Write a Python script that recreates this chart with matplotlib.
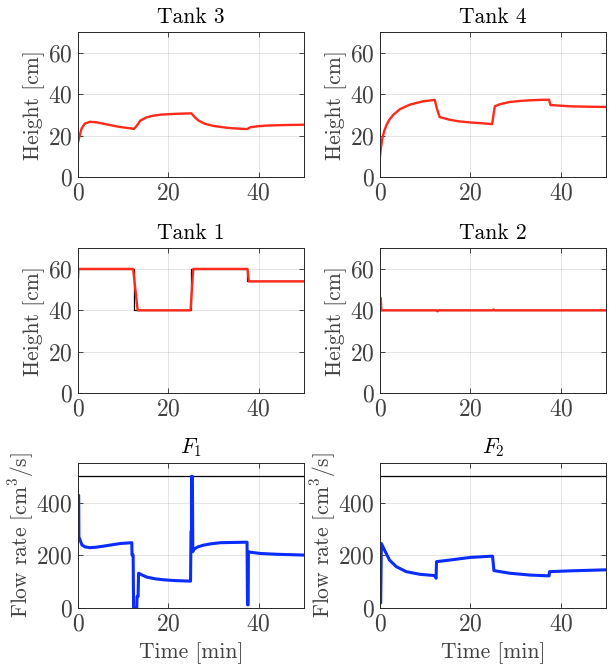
import matplotlib
matplotlib.use('Agg')
import matplotlib.pyplot as plt

plt.rcParams['font.family'] = ['cmr10', 'DejaVu Serif']
plt.rcParams['mathtext.fontset'] = 'cm'
plt.rcParams['axes.formatter.use_mathtext'] = True
plt.rcParams['font.size'] = 15

RED = '#ff2a1a'
BLUE = '#0a2cff'
AXC = '#262626'

# Tank 3 (top left)
t3 = [0.0, 0.3, 0.8, 1.5, 2.6, 4.0, 6.0, 9.0, 12.4, 13.0, 13.8, 15.0, 16.5, 18.5, 21.0, 23.5, 25.1,
      25.8, 26.6, 28.0, 30.0, 33.0, 35.5, 37.4, 38.2, 40.0, 42.0, 45.0, 50.0]
h3 = [16.7, 19.5, 23.5, 25.8, 26.7, 26.5, 25.6, 24.3, 23.3, 24.8, 27.3, 28.7, 29.6, 30.2, 30.5, 30.7, 30.8,
      29.0, 27.4, 25.8, 24.7, 23.8, 23.4, 23.2, 24.1, 24.6, 24.9, 25.1, 25.3]

# Tank 4 (top right)
t4 = [0.0, 0.2, 0.5, 0.9, 1.4, 2.0, 2.9, 4.4, 6.6, 9.5, 12.1, 12.6, 13.2, 15.4, 17.5, 19.9, 22.5, 24.8,
      25.4, 26.5, 28.7, 31.0, 33.2, 35.5, 37.4, 37.7, 40.0, 42.0, 46.0, 50.0]
h4 = [10.2, 14.0, 18.5, 22.0, 25.0, 27.5, 30.0, 32.8, 35.0, 36.6, 37.3, 33.0, 29.0, 27.7, 26.9, 26.4, 26.0, 25.6,
      34.2, 35.2, 36.3, 36.8, 37.1, 37.3, 37.4, 34.8, 34.5, 34.2, 34.0, 33.9]

# Tank 1 (middle left)
t1 = [0.0, 0.1, 12.2, 13.2, 24.9, 25.5, 37.5, 37.8, 50.0]
h1 = [55.7, 60.0, 60.0, 40.0, 40.0, 60.0, 60.0, 54.0, 54.0]
ref1_t = [0.0, 12.5, 25.0, 37.5, 50.0]
ref1 = [60.0, 40.0, 60.0, 54.0, 54.0]

# Tank 2 (middle right)
t2 = [0.0, 0.15, 0.3, 12.4, 12.7, 13.0, 24.9, 25.1, 25.3, 50.0]
h2 = [46.0, 46.0, 40.0, 40.0, 39.5, 40.0, 40.0, 40.4, 40.0, 40.0]
ref2_t = [0.0, 50.0]
ref2 = [40.0, 40.0]

# Pump flows
tf1 = [0.13, 0.15, 0.2, 0.88, 1.6, 2.7, 4.0, 5.7, 7.5, 9.4, 11.9, 11.96, 12.2, 12.3, 13.0, 13.07, 13.3, 13.4,
       14.2, 15.3, 17.0, 19.0, 21.5, 24.9, 25.0, 25.1, 25.12, 25.3, 25.35, 25.4, 25.6, 26.5, 27.8, 29.5,
       31.5, 34.5, 37.4, 37.5, 37.6, 37.65, 37.7, 39.0, 40.4, 44.0, 50.0]
f1 = [428, 428, 270, 239, 232, 229, 231, 235, 240, 245, 248, 201, 201, 0, 0, 44, 44, 132,
      125, 117, 111, 107, 104, 102, 290, 290, 500, 500, 380, 214, 223, 232, 239, 244,
      248, 249, 250, 12, 12, 12, 213, 210, 207, 204, 201]
tf2 = [0.13, 0.15, 0.3, 1.0, 2.1, 3.6, 5.8, 8.8, 12.1, 12.4, 12.5, 15.4, 19.9, 24.9, 25.2, 28.7, 33.2, 37.4,
       37.5, 42.0, 50.0]
f2 = [19, 19, 245, 220, 182, 157, 138, 128, 123, 113, 176, 182, 192, 197, 142, 132, 125, 122,
      138, 141, 145]
fmax_t = [0.0, 50.0]
fmax = [500, 500]

fig = plt.figure(figsize=(6.16, 6.67), dpi=100)
W = 0.3669
cols = [0.1266, 0.6169]
rows = [0.7346, 0.4108, 0.0885]
H = 0.2170


def style(ax, ylim, yticks):
    ax.set_xlim(0, 50)
    ax.set_ylim(*ylim)
    ax.set_xticks([0, 20, 40])
    ax.set_yticks(yticks)
    ax.grid(True, color='#000000', alpha=0.12, linewidth=0.6)
    ax.set_axisbelow(True)
    ax.tick_params(direction='in', length=3.5, width=0.6, colors=AXC, labelcolor='#404040',
                   top=True, right=True, labelsize=17, pad=4)
    for s in ax.spines.values():
        s.set_color(AXC)
        s.set_linewidth(0.7)


panels = [
    (0, 0, 'Tank 3', t3, h3, None, None),
    (1, 0, 'Tank 4', t4, h4, None, None),
    (0, 1, 'Tank 1', t1, h1, ref1_t, ref1),
    (1, 1, 'Tank 2', t2, h2, ref2_t, ref2),
]
for c, r, title, tt, hh, rt, rv in panels:
    ax = fig.add_axes([cols[c], rows[r], W, H])
    if rt is not None:
        ax.plot(rt, rv, color='black', linewidth=0.9, drawstyle='steps-post')
    ax.plot(tt, hh, color=RED, linewidth=1.7)
    style(ax, (0, 70), [0, 20, 40, 60])
    ax.set_title(title, fontsize=15.5, pad=7)
    ax.set_ylabel('Height [cm]', color='#404040', fontsize=15.5, labelpad=2)

for c, title, tt, ff in [(0, r'$F_1$', tf1, f1), (1, r'$F_2$', tf2, f2)]:
    ax = fig.add_axes([cols[c], rows[2], W, H])
    ax.plot(fmax_t, fmax, color='black', linewidth=0.9)
    ax.plot(tt, ff, color=BLUE, linewidth=2.2)
    style(ax, (0, 550), [0, 200, 400])
    ax.set_title(title, fontsize=15.5, pad=7)
    ax.set_ylabel(r'Flow rate [cm$^3$/s]', color='#404040', fontsize=15.5, labelpad=0)
    ax.set_xlabel('Time [min]', color='#404040', fontsize=15.5, labelpad=5)

fig.savefig('out.png', dpi=100)
